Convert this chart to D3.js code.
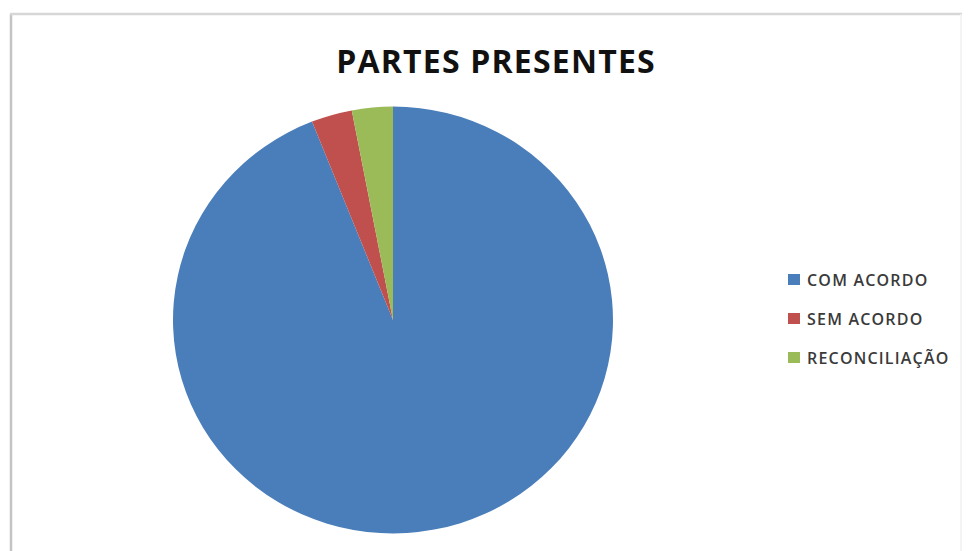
<!DOCTYPE html>
<html lang="pt">
<head>
    <meta charset="UTF-8">
    <title>Partes Presentes</title>
    <style>
        body { margin: 0; background: #fff; }
        svg { display: block; }
    </style>
</head>
<body>
    <svg id="chart" width="969" height="551"></svg>

    <script src="https://d3js.org/d3.v7.min.js"></script>
    <script>
        const categories = ["COM ACORDO", "SEM ACORDO", "RECONCILIAÇÃO"];
        const values = [94, 3, 3];
        const colors = ["#4a7ebb", "#c0504d", "#9bbb59"];

        const width = 969;
        const height = 551;

        const svg = d3.select("#chart");

        // frame of the chart area (left and top show, the rest is cut off)
        svg.append("line")
            .attr("x1", 11).attr("y1", 14).attr("x2", 11).attr("y2", height)
            .attr("stroke", "#c4c4c4").attr("stroke-width", 2.5);
        svg.append("line")
            .attr("x1", 10).attr("y1", 14).attr("x2", 962).attr("y2", 14)
            .attr("stroke", "#d6d6d6").attr("stroke-width", 2.5);
        svg.append("line")
            .attr("x1", 961).attr("y1", 14).attr("x2", 961).attr("y2", height)
            .attr("stroke", "#f0f0f0").attr("stroke-width", 1.5);

        svg.append("text")
            .attr("x", 496)
            .attr("y", 73)
            .attr("text-anchor", "middle")
            .attr("font-family", "Open Sans, sans-serif")
            .attr("font-weight", "bold")
            .attr("font-size", 32)
            .attr("letter-spacing", 1.2)
            .attr("fill", "#111")
            .text("PARTES PRESENTES");

        const data = categories.map((c, i) => ({name: c, value: values[i], color: colors[i]}));

        const pie = d3.pie().sort(null).value(d => d.value);
        const r = 220;
        const arc = d3.arc().innerRadius(0).outerRadius(r);

        const g = svg.append("g")
            .attr("transform", `translate(393, 320) scale(1, 0.97)`);

        g.selectAll("path")
            .data(pie(data))
            .enter()
            .append("path")
            .attr("d", arc)
            .attr("fill", d => d.data.color);

        const legend = svg.append("g").attr("transform", "translate(788, 280)");

        const item = legend.selectAll("g")
            .data(data)
            .enter()
            .append("g")
            .attr("transform", (d, i) => `translate(0, ${i * 39})`);

        item.append("rect")
            .attr("x", 0).attr("y", -6)
            .attr("width", 12).attr("height", 11)
            .attr("fill", d => d.color);

        item.append("text")
            .attr("x", 19)
            .attr("y", 6)
            .attr("font-family", "Open Sans, sans-serif")
            .attr("font-size", 16)
            .attr("font-weight", 600)
            .attr("letter-spacing", 1.2)
            .attr("fill", "#3a3a3a")
            .text(d => d.name);
    </script>
</body>
</html>
